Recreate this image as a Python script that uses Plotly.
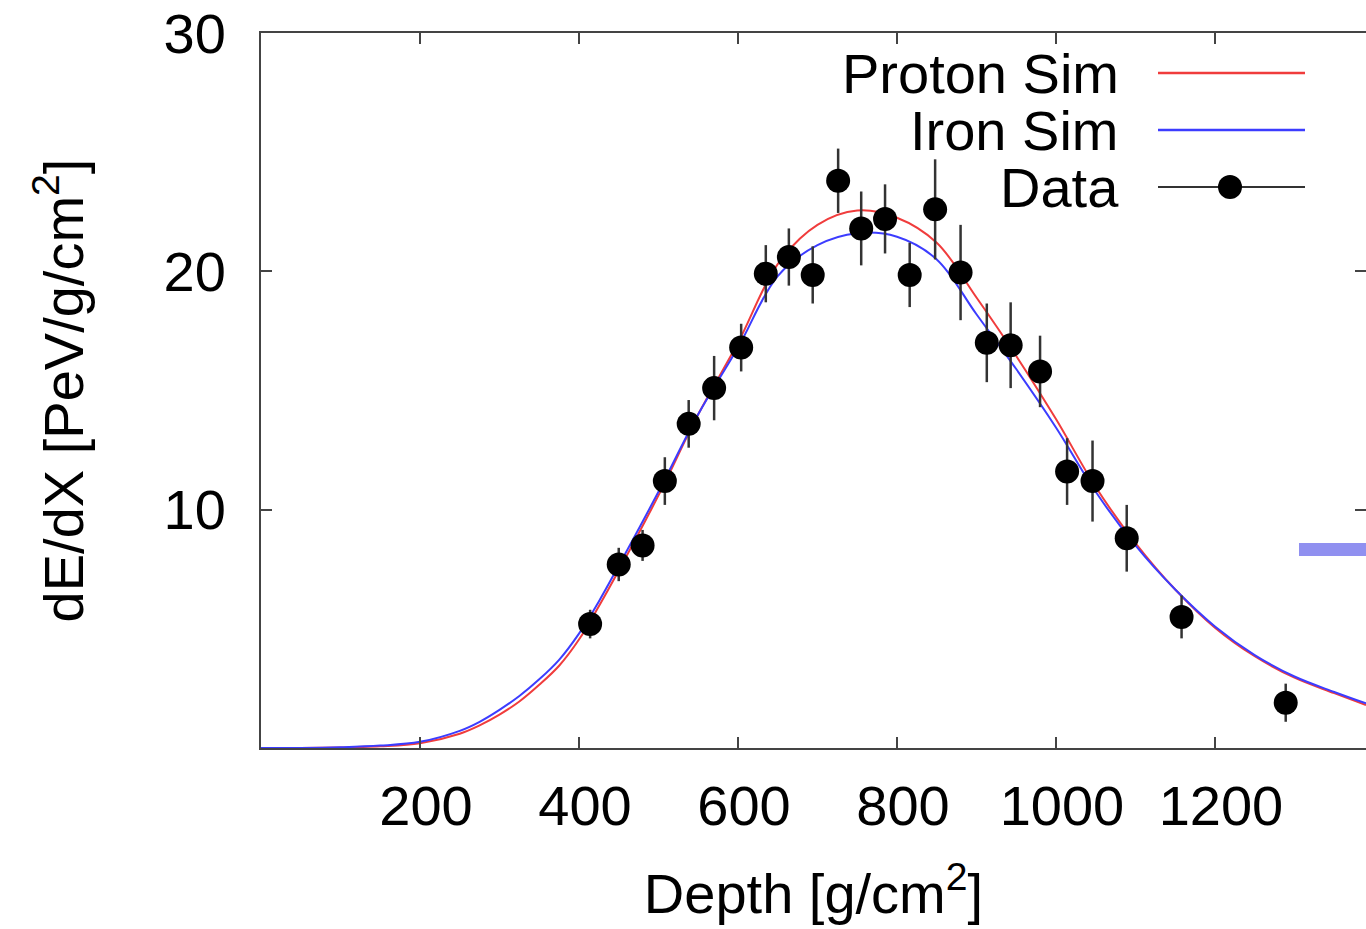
import plotly.graph_objects as go

# ---- data ----
curve_x = [0, 50, 100, 150, 200, 250, 275, 300, 325, 350, 375, 400, 425, 450, 500, 550, 600,
           650, 700, 750, 800, 850, 900, 950, 1000, 1050, 1100, 1150, 1200, 1250, 1300, 1350,
           1390]
proton_y = [0.0, 0.0, 0.02, 0.07, 0.2, 0.6, 0.95, 1.4, 1.95, 2.65, 3.45, 4.55, 5.95, 7.45, 10.6,
            14.0, 17.0, 20.3, 21.95, 22.55, 22.25, 21.2, 18.9, 16.45, 13.8, 10.95, 8.6, 6.65,
            5.05, 3.85, 2.95, 2.3, 1.8]
iron_y = [0.0, 0.0, 0.03, 0.1, 0.26, 0.72, 1.1, 1.6, 2.18, 2.88, 3.7, 4.8, 6.15, 7.65, 10.75,
          14.0, 16.8, 19.8, 21.1, 21.6, 21.45, 20.5, 18.2, 15.9, 13.45, 10.75, 8.5, 6.65, 5.1,
          3.9, 3.0, 2.35, 1.87]

data_x = [414, 450, 480, 508, 538, 570, 604, 635, 664, 694, 726, 755, 785, 816, 848, 880,
          913, 943, 980, 1014, 1046, 1089, 1158, 1289]
data_y = [5.2, 7.7, 8.5, 11.2, 13.6, 15.1, 16.8, 19.9, 20.6, 19.85, 23.8, 21.8, 22.2, 19.85,
          22.6, 19.95, 17.0, 16.9, 15.8, 11.6, 11.2, 8.8, 5.5, 1.9]
data_err = [0.6, 0.7, 0.65, 1.0, 1.0, 1.35, 1.0, 1.2, 1.2, 1.2, 1.35, 1.55, 1.45, 1.35,
            2.1, 2.0, 1.65, 1.8, 1.5, 1.4, 1.7, 1.4, 0.9, 0.8]

x_ticks = [200, 400, 600, 800, 1000, 1200]
y_ticks = [10, 20, 30]
legend_labels = ["Proton Sim", "Iron Sim", "Data"]

RED = "#f03c3c"
BLUE = "#3c3cff"
FONT = "Liberation Sans, Arial, Helvetica, sans-serif"
AXC = "#444444"
FS = 56

W, H = 1366, 929
L, R, T = 261, 0, 33
PW, PH = 1105, 715
B = H - T - PH


def px2paper(px, py):
    return (px - L) / PW, (T + PH - py) / PH


fig = go.Figure()
fig.add_trace(go.Scatter(x=curve_x, y=proton_y, mode="lines", name=legend_labels[0],
                         line=dict(color=RED, width=2, shape="spline", smoothing=1.0)))
fig.add_trace(go.Scatter(x=curve_x, y=iron_y, mode="lines", name=legend_labels[1],
                         line=dict(color=BLUE, width=2, shape="spline", smoothing=1.0)))
fig.add_trace(go.Scatter(x=data_x, y=data_y, mode="markers", name=legend_labels[2],
                         marker=dict(color="black", size=24),
                         error_y=dict(type="data", array=data_err, color="#333333",
                                      thickness=2.5, width=0)))

shapes = []
annotations = []
rows_py = [73, 130, 187]
line_cols = [RED, BLUE, "#333333"]
line_w = [2.5, 2.5, 1.8]
for lab, py, c, lw in zip(legend_labels, rows_py, line_cols, line_w):
    x0, y0 = px2paper(1158, py)
    x1, _ = px2paper(1305, py)
    shapes.append(dict(type="line", xref="paper", yref="paper", x0=x0, x1=x1, y0=y0, y1=y0,
                       line=dict(color=c, width=lw)))
    tx, ty = px2paper(1121, py)
    annotations.append(dict(text=lab, xref="paper", yref="paper", x=tx, y=ty,
                            xanchor="right", yanchor="middle", showarrow=False,
                            font=dict(family=FONT, size=FS, color="black")))
cx, cy = px2paper(1230, 187)
shapes.append(dict(type="circle", xref="paper", yref="paper", xsizemode="pixel",
                   ysizemode="pixel", xanchor=cx, yanchor=cy, x0=-12, x1=12, y0=-12, y1=12,
                   fillcolor="black", line=dict(width=0)))
# stray blue bar at the right edge
bx0, by0 = px2paper(1299, 556)
bx1, by1 = px2paper(1366, 543)
shapes.append(dict(type="rect", xref="paper", yref="paper", x0=bx0, x1=bx1, y0=by0, y1=by1,
                   fillcolor="#9090f0", line=dict(width=0), layer="above"))

fig.update_layout(
    width=W, height=H,
    margin=dict(l=L, r=R, t=T, b=B, autoexpand=False),
    paper_bgcolor="white", plot_bgcolor="white",
    showlegend=False,
    font=dict(family=FONT, size=FS, color="black"),
    shapes=shapes, annotations=annotations,
    xaxis=dict(range=[0, 1390], tickvals=x_ticks, ticks="inside", ticklen=11, tickwidth=1.5,
               tickcolor=AXC, showline=True, linecolor=AXC, linewidth=2, mirror="ticks",
               showgrid=False, zeroline=False, ticklabelstandoff=8, ticklabelshift=6,
               ticklabeloverflow="allow", tickfont=dict(size=FS),
               title=dict(text="Depth [g/cm<sup>2</sup>]", standoff=38, font=dict(size=FS))),
    yaxis=dict(range=[0, 30], tickvals=y_ticks, ticks="inside", ticklen=11, tickwidth=1.5,
               tickcolor=AXC, showline=True, linecolor=AXC, linewidth=2, mirror="ticks",
               showgrid=False, zeroline=False, ticklabelstandoff=22,
               ticklabeloverflow="allow", tickfont=dict(size=FS),
               title=dict(text="dE/dX [PeV/g/cm<sup>2</sup>]", standoff=62, font=dict(size=FS))),
)

fig.write_html(
    "out.html",
    config={"displayModeBar": False},
    post_script="document.body.style.margin='0px';"
                "document.documentElement.style.overflow='hidden';",
)
